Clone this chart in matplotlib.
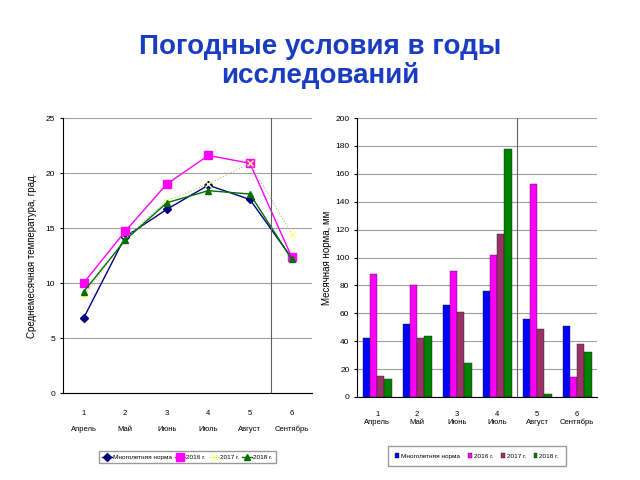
import matplotlib
matplotlib.use("Agg")
import matplotlib.pyplot as plt
import numpy as np

plt.rcParams["font.family"] = ["Liberation Sans", "DejaVu Sans"]

months = ["Апрель", "Май", "Июнь", "Июль", "Август", "Сентябрь"]
month_nums = [1, 2, 3, 4, 5, 6]
series_names = ["Многолетняя норма", "2016 г.", "2017 г.", "2018 г."]

# average monthly temperature, degrees
temp_norm = [6.8, 14.2, 16.7, 18.9, 17.6, 12.3]
temp_2016 = [10.0, 14.7, 19.0, 21.6, 20.9, 12.4]
temp_2017 = [8.8, 14.0, 17.5, 19.0, 20.9, 14.5]
temp_2018 = [9.2, 13.9, 17.3, 18.4, 18.1, 12.2]

# monthly precipitation, mm
rain_norm = [42, 52, 66, 76, 56, 51]
rain_2016 = [88, 80, 90, 102, 153, 14]
rain_2017 = [15, 42, 61, 117, 49, 38]
rain_2018 = [13, 44, 24, 178, 2, 32]

fig = plt.figure(figsize=(6.4, 4.8), dpi=100)
fig.text(0.5, 0.93, "Погодные условия в годы\nисследований", ha="center", va="top",
         fontsize=20, fontweight="bold", color="#1a3cc0", linespacing=1.1)

tick_labels = [f"{n}\n\n{m}" for n, m in zip(month_nums, months)]

# left: temperature lines
ax1 = fig.add_axes([0.098, 0.181, 0.39, 0.573])
ax1.plot(month_nums, temp_norm, color="#000080", marker="D", markersize=4, lw=1, label=series_names[0])
ax1.plot(month_nums, temp_2016, color="#ff00ff", marker="s", markersize=6, lw=1, label=series_names[1])
ax1.plot(month_nums, temp_2017, color="#b8b87a", ls=":", marker="x", markeredgecolor="#ffff80",
         markersize=4, lw=0.8, label=series_names[2])
ax1.plot(month_nums, temp_2018, color="#007000", marker="^", markersize=5, lw=1, label=series_names[3])
ax1.set_xlim(0.5, 6.5)
ax1.set_ylim(0, 25)
ax1.set_yticks(np.arange(0, 26, 5))
ax1.set_xticks(month_nums)
ax1.set_xticklabels(tick_labels, fontsize=5.5)
ax1.tick_params(axis="y", labelsize=6, length=2)
ax1.tick_params(axis="x", length=0, pad=12)
ax1.yaxis.grid(True, color="#a0a0a0", lw=0.8)
ax1.set_axisbelow(True)
ax1.axvline(5.5, color="#606060", lw=0.8)
for s in ["top", "right"]:
    ax1.spines[s].set_visible(False)
ax1.set_ylabel("Среднемесячная температура, град.", fontsize=7, labelpad=6)
ax1.legend(loc="upper center", bbox_to_anchor=(0.5, -0.2), ncol=4, fontsize=4.6,
           frameon=True, fancybox=False, edgecolor="#808080", handlelength=1.5,
           columnspacing=0.5, handletextpad=0.2, borderpad=0.5)

# right: precipitation bars
ax2 = fig.add_axes([0.558, 0.173, 0.375, 0.581])
x = np.array(month_nums)
w = 0.18
bar_series = [rain_norm, rain_2016, rain_2017, rain_2018]
bar_colors = ["#0000ff", "#ff00ff", "#993366", "#008000"]
for i, (vals, c, name) in enumerate(zip(bar_series, bar_colors, series_names)):
    ax2.bar(x + (i - 1.5) * w, vals, width=w, color=c, edgecolor="#202020", lw=0.3, label=name)
ax2.set_xlim(0.5, 6.5)
ax2.set_ylim(0, 200)
ax2.set_yticks(np.arange(0, 201, 20))
ax2.set_xticks(month_nums)
ax2.set_xticklabels([f"{n}\n{m}" for n, m in zip(month_nums, months)], fontsize=5.5)
ax2.tick_params(axis="y", labelsize=6, length=2)
ax2.tick_params(axis="x", length=0, pad=10)
ax2.yaxis.grid(True, color="#a0a0a0", lw=0.8)
ax2.set_axisbelow(True)
ax2.axvline(4.5, color="#606060", lw=0.8)
for s in ["top", "right"]:
    ax2.spines[s].set_visible(False)
ax2.set_ylabel("Месячная норма, мм", fontsize=7, labelpad=2)
ax2.legend(loc="upper center", bbox_to_anchor=(0.5, -0.165), ncol=4, fontsize=4.6,
           frameon=True, fancybox=False, edgecolor="#808080", handlelength=0.6,
           handleheight=0.8, columnspacing=1.2, handletextpad=0.3, borderpad=1.1)

fig.savefig("out.png", dpi=100)
